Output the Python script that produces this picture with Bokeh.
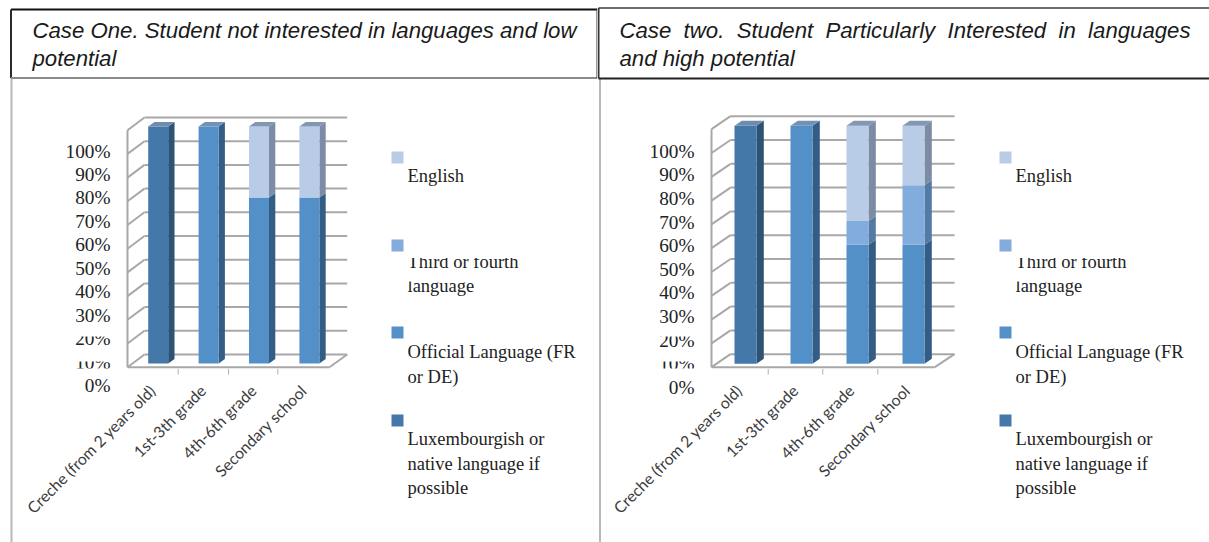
from bokeh.embed import file_html
from bokeh.resources import INLINE
from bokeh.layouts import row
from bokeh.plotting import figure
from bokeh.models import LinearAxis, FixedTicker, Range1d
from bokeh.core.properties import value

categories = ["Creche (from 2 years old)", "1st-3th grade", "4th-6th grade", "Secondary school"]
y_ticks = [0, 10, 20, 30, 40, 50, 60, 70, 80, 90, 100]
legend_lines = [["English"], ["Third or fourth", "language"], ["Official Language (FR", "or DE)"], ["Luxembourgish or", "native language if", "possible"]]

case1_native = [100, 0, 0, 0]
case1_official = [0, 100, 70, 70]
case1_third = [0, 0, 0, 0]
case1_english = [0, 0, 30, 30]

case2_native = [100, 0, 0, 0]
case2_official = [0, 100, 50, 50]
case2_third = [0, 0, 10, 25]
case2_english = [0, 0, 40, 25]

FRONT = {"native": "#4478a8", "official": "#5490c8", "third": "#82acdc", "english": "#b8cce8"}
SIDE = {"native": "#2c5274", "official": "#345d85", "third": "#527aa4", "english": "#7b8ca4"}
TOP = {"native": "#6d8cae", "official": "#7092b8", "third": "#7092b8", "english": "#8297b2"}
GRID = "#a8a8a8"
SER = ["native", "official", "third", "english"]
SWATCH = ["english", "third", "official", "native"]
SERIF = value("Liberation Serif")


def panel(left, right, g, series, head_lines, head_box, head_colors):
    top, bottom = 0, 542
    p = figure(width=right - left, height=bottom - top, output_backend="svg", toolbar_location=None,
               x_axis_type=None, y_axis_type=None, min_border=0, outline_line_color=None,
               background_fill_color="white", border_fill_color="white")
    sx = g["step"]
    sy = (g["y0"] - g["y100"]) / 100
    X = lambda px: (px - g["c0"]) / sx
    Y = lambda py: (g["y0"] - py) / sy
    p.x_range = Range1d(X(left), X(right))
    p.y_range = Range1d(Y(bottom), Y(top))
    p.xgrid.visible = False
    p.ygrid.visible = False

    # table rule
    p.segment([X(g["rule"])], [Y(78)], [X(g["rule"])], [Y(bottom)], line_color="#b8b8b8", line_width=2)

    # walls and floor
    vals = y_ticks
    dy_back = (g["y0"] - g["back0"]) / sy
    dy_front = (g["front0"] - g["y0"]) / sy
    wf, wb, fr, br = X(g["wall_front"]), X(g["wall_back"]), X(g["floor_right"]), X(g["back_right"])
    p.segment([wb] * len(vals), [v + dy_back for v in vals], [br] * len(vals), [v + dy_back for v in vals],
              line_color=GRID, line_width=2)
    p.segment([wf] * len(vals), [v - dy_front for v in vals], [wb] * len(vals), [v + dy_back for v in vals],
              line_color=GRID, line_width=2)
    p.segment([wf], [vals[0] - dy_front], [wf], [vals[-1] - dy_front], line_color=GRID, line_width=2)
    p.segment([wf, fr], [-dy_front, -dy_front], [fr, br], [-dy_front, dy_back], line_color=GRID, line_width=2)

    # bars
    hw = g["bar"] / 2 / sx
    dx = g["depth_x"] / sx
    dy = g["depth_y"] / sy
    for i in range(len(categories)):
        base = 0
        last = None
        for s in SER:
            v = series[s][i]
            if v == 0:
                continue
            p.patch([i + hw, i + hw + dx, i + hw + dx, i + hw], [base, base + dy, base + v + dy, base + v],
                    fill_color=SIDE[s], line_color=None)
            p.quad(left=[i - hw], right=[i + hw], bottom=[base], top=[base + v], fill_color=FRONT[s], line_color=None)
            base += v
            last = s
        p.patch([i - hw, i + hw, i + hw + dx, i - hw + dx], [base, base, base + dy, base + dy],
                fill_color=TOP[last], line_color=None)

    # category axis: labels sit a little left of the bar centres, tick marks between the bars
    tick_px = g["ticks"]
    p.segment([X(t) for t in tick_px], [Y(368.5)] * 3, [X(t) for t in tick_px], [Y(374)] * 3, line_color="#b0b0b0", line_width=1)
    shift = g["label_shift"]
    positions = [i + shift for i in range(len(categories))]
    xax = LinearAxis(fixed_location=Y(g["xaxis_y"]), ticker=FixedTicker(ticks=positions),
                     major_label_overrides={q: c for q, c in zip(positions, categories)},
                     major_tick_line_color=None, minor_tick_line_color=None, axis_line_color=None,
                     major_label_orientation=0.785, major_label_text_font="Lato",
                     major_label_text_font_size="15.8px", major_label_text_color="#3c3c3c", major_label_standoff=0)
    p.add_layout(xax, "below")

    # percent axis, offset from the plot as in the pasted picture
    unit = (g["lab0"] - g["lab100"]) / 100
    p.extra_y_ranges = {"labels": Range1d(-(bottom - g["lab0"]) / unit, (g["lab0"] - top) / unit)}
    yax = LinearAxis(y_range_name="labels", fixed_location=X(g["lab_x"]), ticker=FixedTicker(ticks=y_ticks),
                     major_label_overrides={v: f"{v}%" for v in y_ticks},
                     major_tick_line_color=None, minor_tick_line_color=None, axis_line_color=None,
                     major_label_text_font="Liberation Serif", major_label_text_font_size="19.3px",
                     major_label_text_color="#222222", major_label_standoff=0)
    p.add_layout(yax, "left")

    # the picture's white margin cuts across two of the labels
    mx0, mx1 = X(g["lab_x"] - 60), X(g["lab_x"] + 3)
    p.quad(left=[mx0, mx0, mx0], right=[mx1, mx1, mx1], bottom=[Y(g["m1"]), Y(g["m2"]), Y(g["m3b"])],
           top=[Y(g["m1"] - 9), Y(g["m2"] - 10), Y(g["m3b"] - 4)], fill_color="white", line_color=None, level="overlay")

    # legend
    tx = g["sw_x"] + 16
    for k, (s, lines) in enumerate(zip(SWATCH, legend_lines)):
        y = g["sw_y"][k]
        p.quad(left=[X(g["sw_x"])], right=[X(g["sw_x"] + 12)], top=[Y(y)], bottom=[Y(y + 12)],
               fill_color=FRONT[s], line_color=None)
        p.text([X(tx)] * len(lines), [Y(b - 7) for b in g["base"][k]], text=lines,
               text_font=SERIF, text_font_size="18.5px", text_color="#222222", text_baseline="alphabetic")
    # tops of the third legend entry are clipped in the picture
    p.quad(left=[X(tx - 1), X(tx - 1)], right=[X(tx + 130), X(tx + 6)], top=[Y(252), Y(277)], bottom=[Y(257.5), Y(281)],
           fill_color="white", line_color=None, level="overlay")

    # heading box
    hl, hr, ht, hb = head_box
    ctop, cleft, cbottom, cright = head_colors
    p.segment([X(hl)], [Y(ht)], [X(hr)], [Y(ht)], line_color=ctop, line_width=2)
    p.segment([X(hl)], [Y(ht)], [X(hl)], [Y(hb)], line_color=cleft, line_width=2)
    p.segment([X(hl)], [Y(hb)], [X(hr)], [Y(hb)], line_color=cbottom, line_width=2)
    p.segment([X(hr)], [Y(ht)], [X(hr)], [Y(hb)], line_color=cright, line_width=2)
    p.text([X(g["head_x"])] * 2, [Y(30), Y(58)], text=head_lines, text_font=value("Liberation Sans"),
           text_font_style="italic", text_font_size="22.2px", text_color="#1a1a1a", text_baseline="alphabetic")
    return p


baselines = [[182], [268, 292], [358, 383], [445, 470, 494]]
sw_y = [151, 239, 326, 414]

g1 = dict(c0=157.7, step=50.4, bar=20, depth_x=6.3, depth_y=4.4, y0=363, y100=126, back0=354, front0=366.7,
          wall_front=127, wall_back=144, floor_right=329, back_right=346.7, ticks=[177.7, 228, 277.3],
          xaxis_y=381, label_shift=-0.12, lab0=385, lab100=150.5, lab_x=116, m1=336, m2=361, m3b=372, rule=11,
          sw_x=391, sw_y=sw_y, base=baselines, head_x=32)
g2 = dict(c0=745, step=56, bar=22, depth_x=7.3, depth_y=5, y0=363.3, y100=125.3, back0=353.7, front0=366.7,
          wall_front=711, wall_back=730, floor_right=934.3, back_right=954, ticks=[767.7, 822.3, 877.3],
          xaxis_y=381, label_shift=-0.12, lab0=387, lab100=150.7, lab_x=700, m1=336, m2=361, m3b=372, rule=599.5,
          sw_x=999, sw_y=sw_y, base=baselines, head_x=619)

s1 = dict(native=case1_native, official=case1_official, third=case1_third, english=case1_english)
s2 = dict(native=case2_native, official=case2_official, third=case2_third, english=case2_english)

left = panel(0, 597, g1, s1, ["Case One. Student not interested in languages and low", "potential"],
             (10.5, 597, 9, 77.5), ("#111111", "#2a2a2a", "#8a8a8a", "#333333"))
right = panel(597, 1209, g2, s2, ["Case\u00a0 two.\u00a0 Student\u00a0 Particularly\u00a0 Interested\u00a0 in\u00a0 languages", "and high potential"],
              (598, 1215, 7.5, 78), ("#6e6e6e", "#333333", "#222222", "#333333"))

page = row(left, right, spacing=0)
open("out.html", "w").write(file_html(page, INLINE))
